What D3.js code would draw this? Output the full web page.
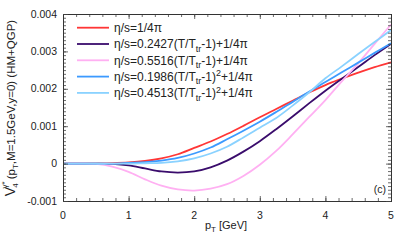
<!DOCTYPE html>
<html>
<head>
<meta charset="utf-8">
<script src="https://cdn.jsdelivr.net/npm/d3@7"></script>
<style>
body{margin:0;background:#fff;}
svg text{font-family:"Liberation Sans",Arial,sans-serif;fill:#222;}
</style>
</head>
<body>
<div id="chart"></div>
<script>
var pT=[0,0.25,0.5,0.75,1,1.25,1.5,1.75,2,2.25,2.5,2.75,3,3.25,3.5,3.75,4,4.25,4.5,4.75,5];

// v4 values in units of 1e-3
var ideal=[0,0,0,0.01,0.03,0.07,0.14,0.25,0.42,0.59,0.79,1.01,1.24,1.46,1.68,1.90,2.10,2.27,2.43,2.58,2.71];
var lin1=[0,0,0,-0.01,-0.05,-0.13,-0.21,-0.24,-0.21,-0.10,0.08,0.32,0.60,0.92,1.26,1.61,1.95,2.27,2.58,2.90,3.20];
var lin2=[0,0,-0.01,-0.08,-0.22,-0.42,-0.59,-0.69,-0.72,-0.67,-0.55,-0.33,-0.03,0.34,0.78,1.24,1.70,2.20,2.68,3.20,3.72];
var quad1=[0,0,0,0,0.02,0.04,0.08,0.15,0.27,0.43,0.65,0.88,1.12,1.38,1.65,1.92,2.18,2.44,2.70,2.96,3.22];
var quad2=[0,0,0,0,0,0.01,0.02,0.06,0.14,0.27,0.45,0.70,0.96,1.22,1.55,1.90,2.28,2.60,2.93,3.25,3.57];

var seriesNames=["ideal","lin1","lin2","quad1","quad2"];
var seriesColors=["#ff3636","#3a0c6c","#ffb0f2","#3c9aff","#8ad2ff"];
var xTicks=[0,1,2,3,4,5];
var yTicks=[-0.001,0,0.001,0.002,0.003,0.004];
var yTickLabels=["-0.001","0","0.001","0.002","0.003","0.004"];

var WIDTH=411,HEIGHT=247;
var margin={left:63,right:20,top:14,bottom:46};

var x=d3.scaleLinear().domain([0,5]).range([margin.left,WIDTH-margin.right]);
var y=d3.scaleLinear().domain([-0.001,0.004]).range([HEIGHT-margin.bottom,margin.top]);

var svg=d3.select("#chart").append("svg")
	.attr("width",WIDTH)
	.attr("height",HEIGHT);

var values={ideal:ideal,lin1:lin1,lin2:lin2,quad1:quad1,quad2:quad2};

var line=d3.line()
	.x(function(d){return x(d[0]);})
	.y(function(d){return y(d[1]*1e-3);})
	.curve(d3.curveCatmullRom);

svg.append("defs").append("clipPath").attr("id","clip")
	.append("rect")
		.attr("x",x(0)).attr("y",y(0.004))
		.attr("width",x(5)-x(0)).attr("height",y(-0.001)-y(0.004));

svg.append("g").attr("clip-path","url(#clip)")
	.selectAll("path.curve")
	.data(seriesNames)
	.enter()
		.append("path")
			.attr("class","curve")
			.attr("d",function(name){
				return line(pT.map(function(p,i){return [p,values[name][i]];}));
			})
			.style("fill","none")
			.style("stroke",function(d,i){return seriesColors[i];})
			.style("stroke-width",1.8);

// frame with inward ticks on all sides
var frame=svg.append("g");
var xMinor=d3.range(0,5.0001,0.2);
var yMinor=d3.range(-0.001,0.00400001,0.0001);

frame.append("g").attr("transform","translate(0,"+y(-0.001)+")")
	.call(d3.axisTop(x).tickValues(xMinor).tickSize(3).tickFormat(""));
frame.append("g").attr("transform","translate(0,"+y(-0.001)+")")
	.call(d3.axisTop(x).tickValues(xTicks).tickSize(5).tickFormat(""));
frame.append("g").attr("transform","translate(0,"+y(0.004)+")")
	.call(d3.axisBottom(x).tickValues(xMinor).tickSize(3).tickFormat(""));
frame.append("g").attr("transform","translate(0,"+y(0.004)+")")
	.call(d3.axisBottom(x).tickValues(xTicks).tickSize(5).tickFormat(""));
frame.append("g").attr("transform","translate("+x(0)+",0)")
	.call(d3.axisRight(y).tickValues(yMinor).tickSize(3).tickFormat(""));
frame.append("g").attr("transform","translate("+x(0)+",0)")
	.call(d3.axisRight(y).tickValues(yTicks).tickSize(5).tickFormat(""));
frame.append("g").attr("transform","translate("+x(5)+",0)")
	.call(d3.axisLeft(y).tickValues(yMinor).tickSize(3).tickFormat(""));
frame.append("g").attr("transform","translate("+x(5)+",0)")
	.call(d3.axisLeft(y).tickValues(yTicks).tickSize(5).tickFormat(""));
frame.selectAll("path.domain").style("stroke","#333");
frame.selectAll(".tick line").style("stroke","#444").style("stroke-width",0.8);

// tick labels
svg.append("g").selectAll("text")
	.data(xTicks)
	.enter()
		.append("text")
			.attr("x",function(d){return x(d);})
			.attr("y",y(-0.001)+18)
			.attr("text-anchor","middle")
			.style("font-size","10.5px")
			.text(function(d){return d;});

svg.append("g").selectAll("text")
	.data(yTicks)
	.enter()
		.append("text")
			.attr("x",x(0)-6)
			.attr("y",function(d){return y(d)+3.5;})
			.attr("text-anchor","end")
			.style("font-size","10.5px")
			.text(function(d,i){return yTickLabels[i];});

// axis titles
var xt=svg.append("text")
	.attr("x",226).attr("y",229)
	.attr("text-anchor","middle")
	.style("font-size","11px");
xt.append("tspan").text("p");
xt.append("tspan").attr("dy",3).style("font-size","8px").text("T");
xt.append("tspan").attr("dy",-3).text(" [GeV]");

var yt=svg.append("text")
	.attr("transform","translate(15,108) rotate(-90)")
	.attr("text-anchor","middle")
	.style("font-size","11.5px");
yt.append("tspan").style("font-size","14px").text("V");
yt.append("tspan").attr("dy",3).attr("dx",-1).style("font-size","8px").text("4");
yt.append("tspan").attr("dy",-11).attr("dx",-5).style("font-size","8px").text("γ*");
yt.append("tspan").attr("dy",8).attr("dx",2).text("(p");
yt.append("tspan").attr("dy",3).style("font-size","8px").text("T");
yt.append("tspan").attr("dy",-3).text(",M=1.5GeV,y=0) (HM+QGP)");

svg.append("text")
	.attr("x",386).attr("y",193)
	.attr("text-anchor","end")
	.style("font-size","10.5px")
	.text("(c)");

// legend
var legendRows=[
	[{t:"η/s=1/4π"}],
	[{t:"η/s=0.2427(T/T"},{t:"tr",sub:1},{t:"-1)+1/4π"}],
	[{t:"η/s=0.5516(T/T"},{t:"tr",sub:1},{t:"-1)+1/4π"}],
	[{t:"η/s=0.1986(T/T"},{t:"tr",sub:1},{t:"-1)"},{t:"2",sup:1},{t:"+1/4π"}],
	[{t:"η/s=0.4513(T/T"},{t:"tr",sub:1},{t:"-1)"},{t:"2",sup:1},{t:"+1/4π"}]
];

var legend=svg.append("g");
var rows=legend.selectAll("g")
	.data(legendRows)
	.enter()
		.append("g")
			.attr("transform",function(d,i){return "translate(0,"+(27.7+i*16.3)+")";});

rows.append("line")
	.attr("x1",77).attr("x2",109)
	.attr("y1",0).attr("y2",0)
	.style("stroke",function(d,i){return seriesColors[i];})
	.style("stroke-width",1.8);

rows.append("text")
	.attr("x",114).attr("y",4.3)
	.style("font-size","12px")
	.each(function(parts){
		var t=d3.select(this),shift=0;
		parts.forEach(function(p){
			var dy=0;
			if(p.sub){dy=3.5-shift;shift=3.5;}
			else if(p.sup){dy=-4.5-shift;shift=-4.5;}
			else {dy=-shift;shift=0;}
			t.append("tspan")
				.attr("dy",dy)
				.style("font-size",(p.sub||p.sup)?"9px":"12px")
				.text(p.t);
		});
	});
</script>
</body>
</html>
